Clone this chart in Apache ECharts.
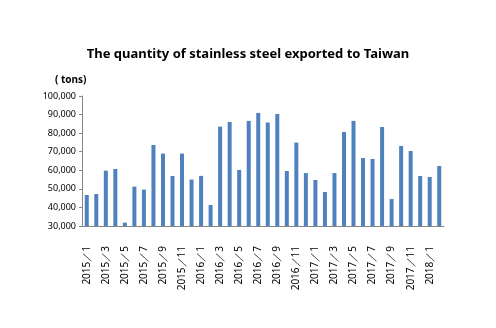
<!DOCTYPE html>
<html><head><meta charset="utf-8">
<script src="https://cdn.jsdelivr.net/npm/echarts@6/dist/echarts.min.js"></script>
<style>html,body{margin:0;padding:0;background:#fff}#c{width:496px;height:328px}</style>
</head><body><div id="c"></div>
<script>
const years = [2015, 2016, 2017, 2018];
const categories = [];
for (const y of years) { const n = y === 2018 ? 2 : 12; for (let m = 1; m <= n; m++) categories.push(y + '／' + m); }
const exports = [46700, 47200, 59800, 60700, 31800, 51200, 49600, 73600, 69000, 56900, 69000, 55000,
                 57000, 41300, 83500, 86000, 60200, 86600, 90900, 85700, 90300, 59600, 74900, 58500,
                 54800, 48300, 58500, 80600, 86600, 66600, 66100, 83300, 44500, 73100, 70400, 56900,
                 56400, 62300];
const yTicks = [30000, 100000, 10000];
const chart = echarts.init(document.getElementById('c'));
chart.setOption({
  animation: false,
  title: { text: 'The quantity of stainless steel exported to Taiwan', left: 'center', top: 43,
    textStyle: { fontFamily: 'Noto Sans', fontSize: 13, fontWeight: 'bold', color: '#000' } },
  graphic: [{ type: 'text', left: 55, top: 75, style: { text: '( tons)', font: 'bold 10px "Noto Sans"', fill: '#000' } }],
  grid: { left: 82, right: 52, top: 96, bottom: 102 },
  xAxis: { type: 'category', data: categories,
    axisLine: { lineStyle: { color: '#868686' } },
    axisTick: { interval: 1, length: 4, lineStyle: { color: '#868686' } },
    axisLabel: { interval: 1, rotate: 90, fontFamily: 'Noto Sans', fontSize: 10, color: '#000', margin: 20 } },
  yAxis: { type: 'value', min: yTicks[0], max: yTicks[1], interval: yTicks[2],
    splitLine: { show: false },
    axisLine: { show: true, lineStyle: { color: '#868686' } },
    axisTick: { show: true, length: 3, lineStyle: { color: '#868686' } },
    axisLabel: { fontFamily: 'Noto Sans', fontSize: 9, color: '#000', margin: 6,
      formatter: v => v.toLocaleString('en-US') } },
  series: [{ type: 'bar', data: exports, barWidth: 4, itemStyle: { color: '#4f81bd' } }]
});
</script></body></html>
